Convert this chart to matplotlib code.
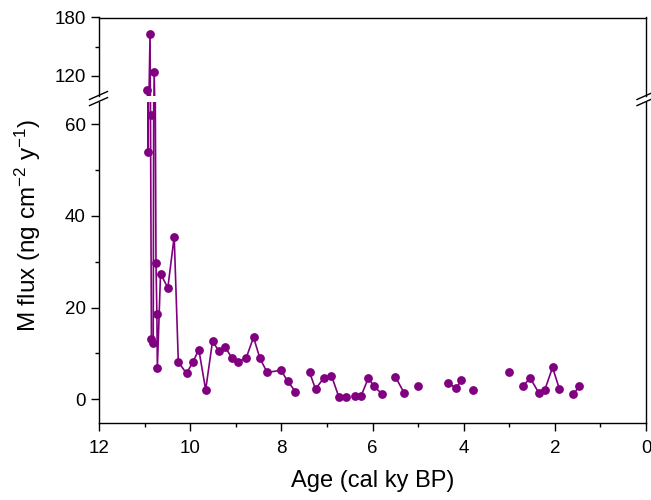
import numpy as np
import matplotlib
matplotlib.use("Agg")
import matplotlib.pyplot as plt
from matplotlib.lines import Line2D
from matplotlib.ticker import MultipleLocator

plt.rcParams["font.family"] = ["Liberation Sans", "DejaVu Sans"]
plt.rcParams["mathtext.fontset"] = "custom"
plt.rcParams["mathtext.rm"] = "Liberation Sans"
plt.rcParams["mathtext.it"] = "Liberation Sans:italic"
plt.rcParams["mathtext.bf"] = "Liberation Sans:bold"

# Age (cal ky BP) and M flux (ng cm-2 y-1); NaN marks a missing sample (line gap)
age = [10.94, 10.92, 10.88, 10.87, 10.85, 10.81, 10.79, 10.75, 10.73, 10.72,
       10.65, 10.49, 10.35, 10.26, 10.08, 9.94, 9.81, 9.66, 9.51, 9.37,
       9.23, 9.08, 8.95, 8.77, 8.61, 8.47, 8.31, 8.01, 7.86, 7.69,
       7.55,
       7.38, 7.25, 7.06, 6.90, 6.74, 6.58,
       6.48,
       6.38, 6.25, 6.09, 5.97, 5.80,
       5.65,
       5.50, 5.31,
       5.15,
       5.01,
       4.60,
       4.34, 4.17, 4.05,
       3.90,
       3.79,
       3.40,
       3.00,
       2.85,
       2.70, 2.54, 2.35, 2.22, 2.05, 1.90,
       1.75,
       1.60, 1.46]
flux = [105.6, 54.0, 163.4, 62.0, 13.2, 12.3, 123.8, 29.8, 18.5, 6.8,
        27.4, 24.3, 35.5, 8.1, 5.6, 8.1, 10.8, 2.0, 12.6, 10.5,
        11.3, 8.9, 8.1, 9.0, 13.5, 8.9, 5.8, 6.3, 3.9, 1.6,
        np.nan,
        5.8, 2.2, 4.7, 5.1, 0.5, 0.4,
        np.nan,
        0.65, 0.7, 4.6, 2.8, 1.2,
        np.nan,
        4.9, 1.4,
        np.nan,
        2.8,
        np.nan,
        3.6, 2.3, 4.1,
        np.nan,
        2.0,
        np.nan,
        5.9,
        np.nan,
        2.8, 4.6, 1.3, 2.0, 6.9, 2.2,
        np.nan,
        1.0, 2.8]

x_ticks = [12, 10, 8, 6, 4, 2, 0]
lower_range = (-5.24, 65)
upper_range = (100, 180)

color = "#800080"
W, H = 651, 500
fig = plt.figure(figsize=(W / 100, H / 100), dpi=100)

left, right = 99 / W, 646 / W
ax_up = fig.add_axes([left, 1 - 95.5 / H, right - left, (95.5 - 17.5) / H])
ax_lo = fig.add_axes([left, 1 - 423 / H, right - left, (423 - 101.6) / H])

for ax in (ax_up, ax_lo):
    ax.plot(age, flux, color=color, lw=1.2, marker="o", ms=5.3,
            mec=color, mfc=color, zorder=3)
    ax.set_xlim(12, 0)
    for s in ax.spines.values():
        s.set_linewidth(1.0)
        s.set_color("black")
    ax.tick_params(axis="both", which="major", direction="out", length=5.5,
                   width=1.0, labelsize=13.5, colors="black", pad=4)
    ax.tick_params(axis="both", which="minor", direction="out", length=3.2,
                   width=1.0)
    ax.tick_params(top=False, right=False, which="both")

ax_up.set_ylim(*upper_range)
ax_up.yaxis.set_major_locator(MultipleLocator(60))
ax_up.yaxis.set_minor_locator(MultipleLocator(30))
ax_up.spines["bottom"].set_visible(False)
ax_up.tick_params(axis="x", which="both", bottom=False, labelbottom=False)

ax_lo.set_ylim(*lower_range)
ax_lo.yaxis.set_major_locator(MultipleLocator(20))
ax_lo.yaxis.set_minor_locator(MultipleLocator(10))
ax_lo.spines["top"].set_visible(False)
ax_lo.set_xticks(x_ticks)
ax_lo.xaxis.set_minor_locator(MultipleLocator(1))
ax_lo.tick_params(axis="x", which="major", pad=7)

# break marks on both vertical spines
for px in (98.5, 646):
    for py in (95.5, 101.6):
        xs = [(px - 9) / W, (px + 9) / W]
        ys = [1 - (py + 4) / H, 1 - (py - 4) / H]
        fig.add_artist(Line2D(xs, ys, color="black", lw=1.0,
                              transform=fig.transFigure))

fig.text((99 + 646) / 2 / W, 1 - 481 / H, "Age (cal ky BP)",
         ha="center", va="center", fontsize=17)
fig.text(28 / W, 1 - 225 / H, r"M flux (ng cm$^{-2}$ y$^{-1}$)",
         ha="center", va="center", rotation=90, fontsize=17.5)

fig.savefig("out.png", dpi=100)
